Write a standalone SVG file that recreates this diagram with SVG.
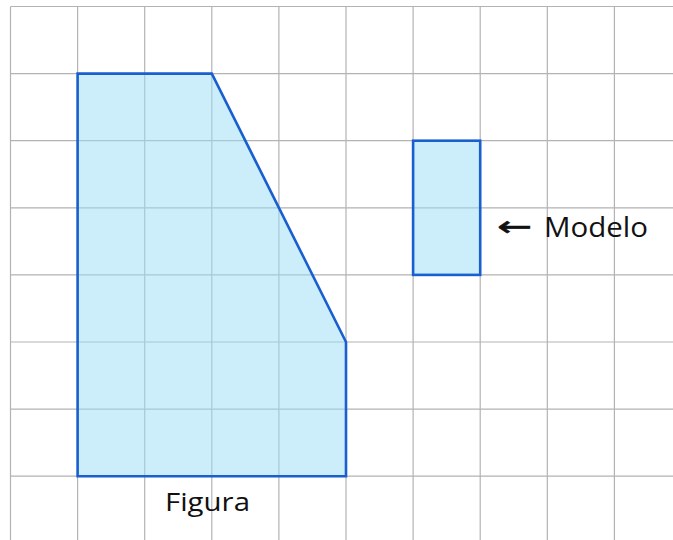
<svg xmlns="http://www.w3.org/2000/svg" width="673" height="540" viewBox="0 0 673 540">
<style>
.grid{stroke:#b3b3b3;stroke-width:1.2;fill:none}
.shape{fill:#99ddf8;fill-opacity:0.5;stroke:#1a5fcf;stroke-width:2.6;stroke-linejoin:miter}
.lbl{font-family:"Open Sans","Liberation Sans",sans-serif;fill:#111}
.arr{font-family:"DejaVu Sans",sans-serif;fill:#111;stroke:#111;stroke-width:0.6}
</style>
<rect width="673" height="540" fill="#ffffff"/>
<g id="grid" class="grid">
<path d="M10.5,6.5V540M77.6,6.5V540M144.7,6.5V540M211.8,6.5V540M278.9,6.5V540M346,6.5V540M413.1,6.5V540M480.2,6.5V540M547.3,6.5V540M614.4,6.5V540"/>
<path d="M10.5,6.5H673M10.5,73.6H673M10.5,140.7H673M10.5,207.8H673M10.5,274.9H673M10.5,342H673M10.5,409.1H673M10.5,476.2H673"/>
</g>
<g id="figura">
<polygon class="shape" points="77.6,73.6 211.8,73.6 346,342 346,476.2 77.6,476.2"/>
</g>
<g id="modelo">
<rect class="shape" x="413.1" y="140.7" width="67.1" height="134.2"/>
</g>
<g id="labels">
<text class="lbl" x="165" y="511" font-size="26" textLength="85" lengthAdjust="spacingAndGlyphs">Figura</text>
<text class="arr" x="497" y="236" font-size="28" textLength="35" lengthAdjust="spacingAndGlyphs">←</text>
<text class="lbl" x="544" y="237" font-size="28" textLength="104" lengthAdjust="spacingAndGlyphs">Modelo</text>
</g>
</svg>
